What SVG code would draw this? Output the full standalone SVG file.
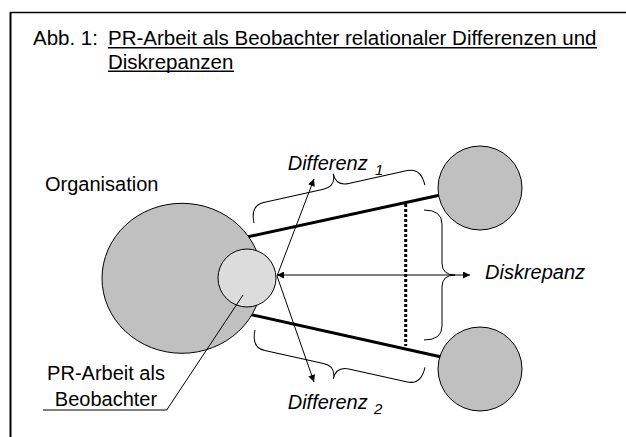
<svg xmlns="http://www.w3.org/2000/svg" width="626" height="437" viewBox="0 0 626 437">
<defs>
<style>
text{font-family:"Liberation Sans",Arial,sans-serif;fill:#000}
.lbl{font-size:20px}
.it{font-size:20px;font-style:italic}
.sub{font-size:15px;font-style:italic}
.ttl{font-size:20.5px}
.big{fill:#c0c0c0;stroke:#000;stroke-width:1}
.small{fill:#dcdcdc;stroke:#000;stroke-width:1}
.thick{stroke:#000;stroke-width:3;fill:none}
.thin{stroke:#000;stroke-width:1;fill:none}
.brace{stroke:#000;stroke-width:1;fill:none}
</style>
<marker id="ah" viewBox="0 0 10 10" refX="10" refY="5" markerWidth="8" markerHeight="7" orient="auto-start-reverse" markerUnits="userSpaceOnUse">
<path d="M0,0 L10,5 L0,10 z" fill="#000"/>
</marker>
</defs>
<rect x="0" y="0" width="626" height="437" fill="#fff"/>
<g id="frame">
<line x1="10" y1="12.5" x2="626" y2="12.5" stroke="#000" stroke-width="1.5"/>
<line x1="10.5" y1="12" x2="10.5" y2="437" stroke="#000" stroke-width="2"/>
</g>
<g id="title">
<text class="ttl" x="33" y="45">Abb. 1:</text>
<text class="ttl" x="108" y="45">PR-Arbeit als Beobachter relationaler Differenzen und</text>
<line x1="108" y1="47.8" x2="597" y2="47.8" stroke="#000" stroke-width="1.5"/>
<text class="ttl" x="108" y="68.5">Diskrepanzen</text>
<line x1="108" y1="71.3" x2="234" y2="71.3" stroke="#000" stroke-width="1.5"/>
</g>
<g id="connectors">
<line class="thick" x1="240" y1="238.5" x2="445" y2="194"/>
<line class="thick" x1="244" y1="313" x2="446" y2="358"/>
<line x1="405.7" y1="204" x2="405.7" y2="346" stroke="#000" stroke-width="3" stroke-dasharray="3,2"/>
</g>
<g id="organisation">
<ellipse class="big" cx="182" cy="278.3" rx="80" ry="75"/>
<text class="lbl" x="45" y="191">Organisation</text>
</g>
<g id="partner1">
<circle class="big" cx="480" cy="188" r="42"/>
</g>
<g id="partner2">
<circle class="big" cx="480" cy="369" r="42"/>
</g>
<g id="pr">
<circle class="small" cx="247" cy="278" r="29"/>
<polyline class="thin" points="243,295 166.7,410 43,410"/>
<text class="lbl" x="106" y="380" text-anchor="middle">PR-Arbeit als</text>
<text class="lbl" x="106" y="406" text-anchor="middle">Beobachter</text>
</g>
<g id="arrows">
<line class="thin" x1="277" y1="275" x2="470" y2="275" marker-start="url(#ah)" marker-end="url(#ah)"/>
<line class="thin" x1="277" y1="276" x2="314" y2="179" marker-end="url(#ah)"/>
<line class="thin" x1="277" y1="276" x2="314" y2="382" marker-end="url(#ah)"/>
</g>
<g id="braces">
<path class="brace" transform="translate(254,223) rotate(-12.5)" d="M0,0 Q0,-18 14,-18 L75,-18 Q88,-18 88,-31 Q88,-18 101,-18 L161,-18 Q175,-18 175,0"/>
<path class="brace" transform="translate(255,330) rotate(12.4)" d="M0,0 Q0,18 14,18 L74,18 Q87,18 87,31 Q87,18 100,18 L160,18 Q174,18 174,0"/>
<path class="brace" d="M424,210 Q442,210 442,224 L442,263 Q442,275 455,275 Q442,275 442,287 L442,326 Q442,340 424,340"/>
</g>
<g id="labels">
<text class="it" x="287.7" y="170">Differenz</text>
<text class="sub" x="375" y="175">1</text>
<text class="it" x="287.7" y="408.5">Differenz</text>
<text class="sub" x="374" y="414">2</text>
<text class="it" x="485" y="278.5">Diskrepanz</text>
</g>
</svg>
